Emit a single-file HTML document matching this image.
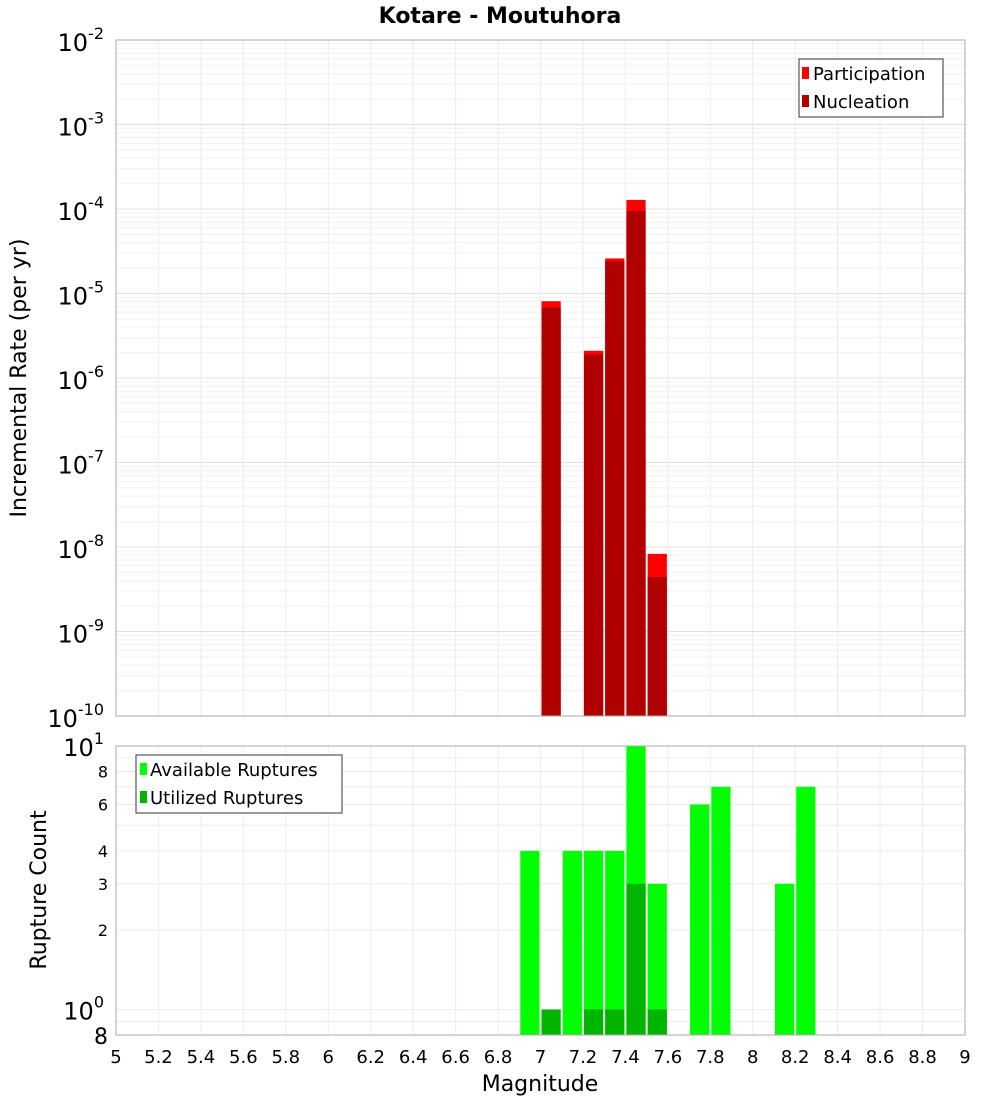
<!DOCTYPE html>
<html><head><meta charset="utf-8"><style>
body{margin:0;background:#fff;font-family:"Liberation Sans","DejaVu Sans",sans-serif}
svg text{font-family:"DejaVu Sans","Liberation Sans",sans-serif}
</style></head><body>
<svg id="c" width="1000" height="1100" xmlns="http://www.w3.org/2000/svg">
<text x="500" y="23" text-anchor="middle" font-size="22" font-weight="bold">Kotare - Moutuhora</text>
<g id="topPlot"></g>
<g id="botPlot"></g>
<text transform="translate(26,378) rotate(-90)" text-anchor="middle" font-size="22">Incremental Rate (per yr)</text>
<text transform="translate(46,890) rotate(-90)" text-anchor="middle" font-size="22">Rupture Count</text>
<text x="540" y="1091" text-anchor="middle" font-size="22">Magnitude</text>
</svg>
<script>
const rateMags=[7.05,7.25,7.35,7.45,7.55];
const participation=[8.1e-6,2.1e-6,2.6e-5,1.28e-4,8.3e-9];
const nucleation=[6.8e-6,1.9e-6,2.4e-5,9.5e-5,4.4e-9];
const availMags=[6.95,7.15,7.25,7.35,7.45,7.55,7.75,7.85,8.15,8.25];
const available=[4,4,4,4,10,3,6,7,3,7];
const utilMags=[7.05,7.25,7.35,7.45,7.55];
const utilized=[1,1,1,3,1];
const xTicks=["5","5.2","5.4","5.6","5.8","6","6.2","6.4","6.6","6.8","7","7.2","7.4","7.6","7.8","8","8.2","8.4","8.6","8.8","9"];
const countTicks=[2,3,4,6,8];

const NS="http://www.w3.org/2000/svg";
const X0=116,X1=965,T0=40,T1=716,B0=746,B1=1035;
const xs=m=>X0+(m-5)/4*(X1-X0);
const yTop=v=>T1-(Math.log10(v)+10)/8*(T1-T0);
const yBot=v=>B1-(Math.log10(v)-Math.log10(0.8))/Math.log10(12.5)*(B1-B0);
function el(p,t,a){const e=document.createElementNS(NS,t);for(const k in a)e.setAttribute(k,a[k]);p.appendChild(e);return e;}
const topG=document.getElementById('topPlot'),botG=document.getElementById('botPlot');

for(let d=-10;d<-2;d++){for(let k=1;k<10;k++){const y=yTop(k*Math.pow(10,d));
const g=el(topG,'line',{x1:X0,x2:X1,y1:y,y2:y,stroke:k==1?'#e0e0e0':'#f0f0f0','stroke-width':1});

}}
xTicks.forEach(t=>{const x=xs(+t);
const g=el(topG,'line',{x1:x,x2:x,y1:T0,y2:T1,stroke:'#ececec'});


const g2=el(botG,'line',{x1:x,x2:x,y1:B0,y2:B1,stroke:'#ececec'});


const tl=el(botG,'text',{x:x,y:1063,'text-anchor':'middle','font-size':18});
tl.textContent=t;

});
for(let d=-10;d<=-2;d++){const y=yTop(Math.pow(10,d));
const tt=el(topG,'text',{x:104,y:y+11,'text-anchor':'end','font-size':24});
tt.innerHTML='10<tspan dy="-12" font-size="16">'+d+'</tspan>';

}
rateMags.forEach((m,i)=>{const x=xs(m-0.05)+1,w=xs(m+0.05)-xs(m-0.05)-2;
const r=el(topG,'rect',{x:x,y:yTop(participation[i]),width:w,height:T1-yTop(participation[i]),fill:'#ff0000'});


const n=el(topG,'rect',{x:x,y:yTop(nucleation[i]),width:w,height:T1-yTop(nucleation[i]),fill:'#b00000'});

});
el(topG,'rect',{x:X0,y:T0,width:X1-X0,height:T1-T0,fill:'none',stroke:'#aaa'});
const lg=el(topG,'g',{});


el(lg,'rect',{x:799,y:59,width:144,height:58,fill:'#fff',stroke:'#333'});
el(lg,'rect',{x:802,y:67,width:7,height:12,fill:'#ff0000'});
el(lg,'rect',{x:802,y:95,width:7,height:12,fill:'#b00000'});
let tx=el(lg,'text',{x:813,y:80,'font-size':18});tx.textContent='Participation';
tx=el(lg,'text',{x:813,y:108,'font-size':18});tx.textContent='Nucleation';

const bgrid=[0.8,0.9,1,2,3,4,5,6,7,8,9,10];
bgrid.forEach(v=>{const y=yBot(v);
const g=el(botG,'line',{x1:X0,x2:X1,y1:y,y2:y,stroke:'#ececec'});

});
countTicks.forEach(v=>{const tl=el(botG,'text',{x:108,y:yBot(v)+6,'text-anchor':'end','font-size':16});
tl.textContent=v;

});
[[1,'10','0'],[10,'10','1']].forEach(a=>{const tl=el(botG,'text',{x:104,y:yBot(a[0])+10,'text-anchor':'end','font-size':24});
tl.innerHTML=a[1]+'<tspan dy="-12" font-size="16">'+a[2]+'</tspan>';

});
tx=el(botG,'text',{x:108,y:B1+9,'text-anchor':'end','font-size':22});tx.textContent='8';
availMags.forEach((m,i)=>{const x=xs(m-0.05)+1,w=xs(m+0.05)-xs(m-0.05)-2,y=yBot(available[i]);
const r=el(botG,'rect',{x:x,y:y,width:w,height:B1-y,fill:'#00ff00'});

});
utilMags.forEach((m,i)=>{const x=xs(m-0.05)+1,w=xs(m+0.05)-xs(m-0.05)-2,y=yBot(utilized[i]);
const r=el(botG,'rect',{x:x,y:y,width:w,height:B1-y,fill:'#00b400'});

});
el(botG,'rect',{x:X0,y:B0,width:X1-X0,height:B1-B0,fill:'none',stroke:'#aaa'});
const lg2=el(botG,'g',{});


el(lg2,'rect',{x:136,y:755,width:206,height:58,fill:'#fff',stroke:'#333'});
el(lg2,'rect',{x:140,y:763,width:7,height:12,fill:'#00ff00'});
el(lg2,'rect',{x:140,y:791,width:7,height:12,fill:'#00b400'});
tx=el(lg2,'text',{x:150,y:776,'font-size':18});tx.textContent='Available Ruptures';
tx=el(lg2,'text',{x:150,y:804,'font-size':18});tx.textContent='Utilized Ruptures';
</script>
</body></html>
